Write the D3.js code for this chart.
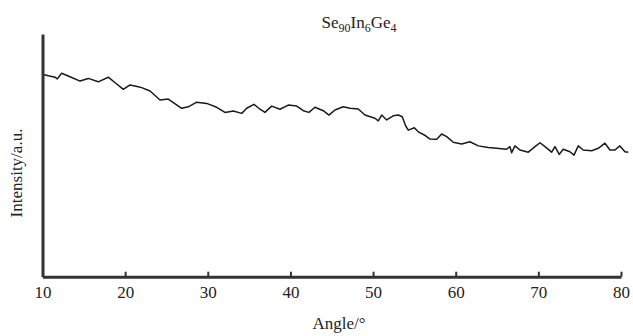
<!DOCTYPE html>
<html>
<head>
<meta charset="utf-8">
<script src="https://cdn.jsdelivr.net/npm/d3@7"></script>
<style>
  html, body { margin: 0; padding: 0; background: #fff; }
  svg { display: block; }
  svg text { font-family: 'Liberation Serif', 'Times New Roman', serif; }
</style>
</head>
<body>
<svg id="chart" width="633" height="336"></svg>
<script>
// XRD pattern of Se90In6Ge4 (diffraction angle 2θ vs. intensity, arbitrary units)
const angle = [
  10.00, 10.70, 11.51, 11.79, 12.32, 13.33, 14.54, 15.54, 16.75, 17.96,
  18.98, 19.78, 20.59, 21.59, 22.00, 23.01, 24.22, 25.22, 26.84, 27.64,
  28.66, 29.87, 31.08, 32.08, 33.09, 34.11, 34.71, 35.59, 36.32, 36.92,
  37.73, 38.74, 39.74, 40.76, 41.56, 42.24, 42.97, 43.98, 44.66, 45.39,
  46.39, 47.20, 48.21, 49.02, 50.23, 50.63, 51.04, 51.65, 52.44, 53.05,
  53.53, 53.94, 54.26, 54.99, 55.47, 56.20, 56.89, 57.70, 58.30, 58.91,
  59.70, 60.72, 61.72, 62.73, 63.94, 64.95, 66.16, 66.56, 66.77, 67.17,
  67.77, 68.78, 69.59, 70.19, 70.80, 71.61, 72.01, 72.53, 73.01, 73.82,
  74.31, 74.83, 75.43, 76.45, 77.25, 78.06, 78.66, 79.27, 79.87, 80.48,
  80.88
];
const intensity = [
  83.4, 82.8, 82.2, 81.5, 83.8, 82.4, 80.6, 81.7, 80.3, 82.2,
  79.4, 77.2, 79.0, 78.3, 77.9, 76.5, 72.8, 73.2, 69.4, 70.0,
  71.9, 71.4, 69.8, 67.7, 68.3, 67.3, 69.4, 71.0, 69.0, 67.7,
  70.3, 69.0, 70.7, 70.3, 68.4, 67.7, 69.8, 68.4, 66.6, 68.7,
  70.0, 69.4, 69.1, 66.6, 65.3, 64.2, 66.6, 64.6, 66.3, 66.6,
  65.9, 62.2, 60.4, 61.4, 59.7, 58.4, 56.7, 56.6, 58.8, 57.7,
  55.4, 54.7, 55.6, 53.9, 53.2, 52.9, 52.5, 53.6, 51.1, 53.9,
  52.2, 51.3, 53.6, 55.2, 53.6, 51.3, 53.6, 50.4, 52.5, 51.5,
  50.1, 53.9, 52.2, 51.9, 52.9, 55.0, 52.2, 52.2, 53.9, 51.5,
  51.3
];
const xTicks = [10, 20, 30, 40, 50, 60, 70, 80];
const xDomain = [10, 80];
const yDomain = [0, 100];

const svg = d3.select("#chart");
const plot = { left: 42.5, right: 621, top: 34, bottom: 276.7 };
const serif = "'Liberation Serif', 'Times New Roman', serif";

const x = d3.scaleLinear().domain(xDomain).range([plot.left, plot.right]);
const y = d3.scaleLinear().domain(yDomain).range([plot.bottom, plot.top]);

// pattern trace
const points = angle.map((a, i) => [a, intensity[i]]);
svg.append("path")
  .datum(points)
  .attr("fill", "none")
  .attr("stroke", "#1a1a1a")
  .attr("stroke-width", 1.5)
  .attr("stroke-linejoin", "round")
  .attr("d", d3.line().x(d => x(d[0])).y(d => y(d[1])));

// bottom axis with inward ticks
const gx = svg.append("g")
  .attr("transform", `translate(0,${plot.bottom})`)
  .call(d3.axisBottom(x).tickValues(xTicks).tickFormat(d3.format("d"))
    .tickSizeInner(-5).tickSizeOuter(0).tickPadding(9));
gx.attr("font-family", null);
gx.select(".domain").attr("stroke", "#333").attr("stroke-width", 3);
gx.selectAll(".tick line").attr("stroke", "#333").attr("stroke-width", 2)
  .filter(d => d === 10).remove();
gx.selectAll(".tick text")
  .style("font-family", serif).style("font-size", "17px").attr("fill", "#222");

// left axis line without ticks
const gy = svg.append("g")
  .attr("transform", `translate(${plot.left},0)`)
  .call(d3.axisLeft(y).tickValues([]).tickSizeOuter(0));
gy.select(".domain").attr("stroke", "#333").attr("stroke-width", 3);

// title with subscripts
const title = svg.append("text")
  .attr("x", 359).attr("y", 28)
  .attr("text-anchor", "middle")
  .style("font-size", "17px").attr("fill", "#222");
[["Se", false], ["90", true], ["In", false], ["6", true], ["Ge", false], ["4", true]]
  .forEach(([t, sub], i) => {
    title.append("tspan")
      .style("font-size", sub ? "12px" : "17px")
      .attr("dy", i === 0 ? 0 : (sub ? 4 : -4))
      .text(t);
  });

// axis titles
svg.append("text")
  .attr("x", 339).attr("y", 329)
  .attr("text-anchor", "middle")
  .style("font-size", "17px").attr("fill", "#222")
  .text("Angle/°");

svg.append("text")
  .attr("transform", "translate(22,173) rotate(-90)")
  .attr("text-anchor", "middle")
  .style("font-size", "17px").attr("fill", "#222")
  .text("Intensity/a.u.");
</script>
</body>
</html>
